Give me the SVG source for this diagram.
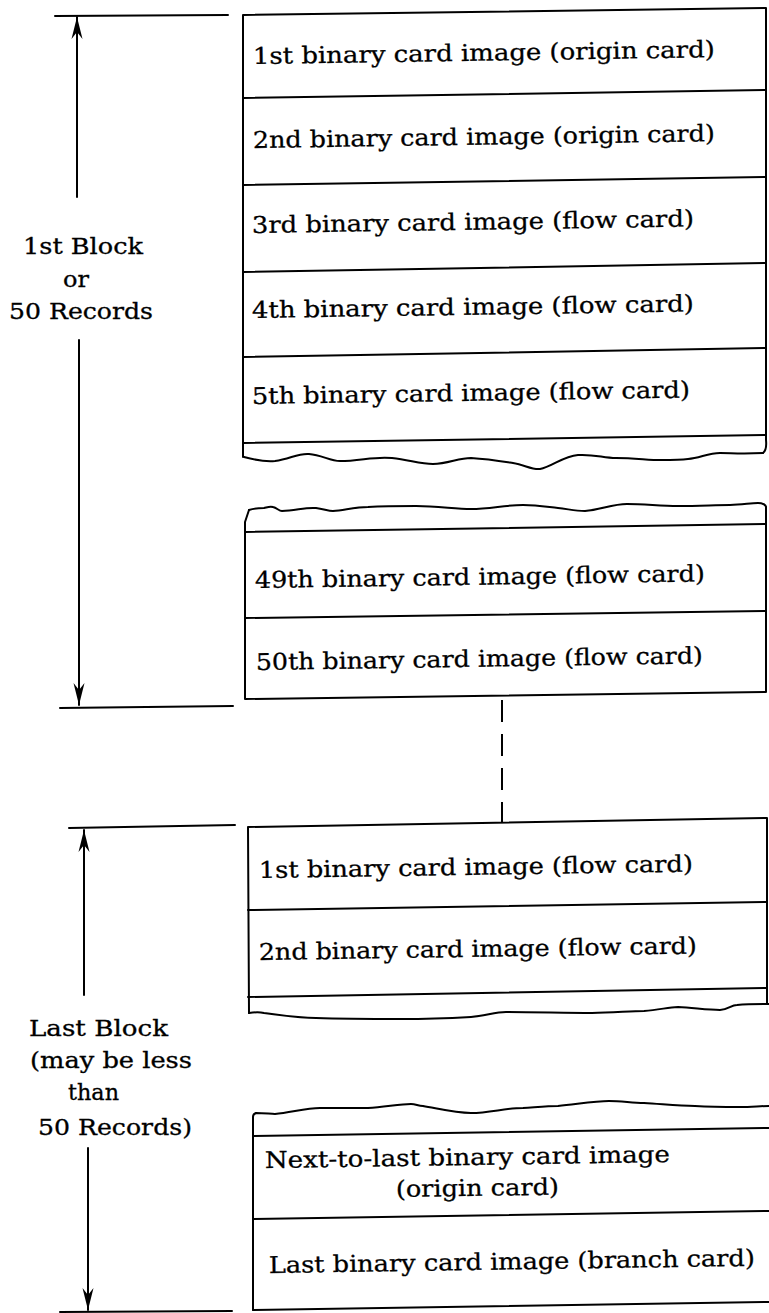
<svg xmlns="http://www.w3.org/2000/svg" width="769" height="1313" viewBox="0 0 769 1313">
<style>
.ln{fill:none;stroke:#000;stroke-width:2;stroke-linejoin:round;stroke-linecap:round}
.t{font-family:"DejaVu Serif","Liberation Serif",serif;font-size:23px;fill:#000;stroke:#000;stroke-width:0.3}
.lb{font-family:"DejaVu Serif","Liberation Serif",serif;font-size:22px;fill:#000;stroke:#000;stroke-width:0.3}
</style>
<defs>
<marker id="ah" viewBox="-24 -7 26 14" refX="0" refY="0" markerWidth="26" markerHeight="14" markerUnits="userSpaceOnUse" orient="auto">
<path d="M0,0 L-22,-5.5 L-15,0 L-22,5.5 Z" fill="#000"/>
</marker>
</defs>
<rect width="769" height="1313" fill="#fff"/>

<g id="block1">
<path class="ln" d="M243,457 L243,15 L766,8 L766,440 Q767,450 763,453"/>
<path class="ln" d="M244,457 C255,460 265,462 275,461 C290,459 298,453 309,454 C322,455 330,461 340,461 C360,461 375,456 392,458 C410,460 420,464 433,464 C448,464 458,458 471,458 C488,459 500,461 513,463 C525,465 532,470 540,469 C552,467 563,456 578,455 C595,454 603,458 616,458 C635,458 648,460 661,460 C675,460 680,460 688,459 C700,458 708,453 720,453 C732,453 740,454 763,453"/>
<path class="ln" d="M243,98 L766,90 M243,185 L766,177 M243,272 L766,263 M243,357 L766,348 M243,443 L766,435"/>
<text class="t" x="253" y="64" textLength="462" lengthAdjust="spacingAndGlyphs" transform="rotate(-0.85 253 64)">1st binary card image (origin card)</text>
<text class="t" x="253" y="148" textLength="462" lengthAdjust="spacingAndGlyphs" transform="rotate(-0.85 253 148)">2nd binary card image (origin card)</text>
<text class="t" x="252" y="233" textLength="442" lengthAdjust="spacingAndGlyphs" transform="rotate(-0.85 252 233)">3rd binary card image (flow card)</text>
<text class="t" x="252" y="318" textLength="442" lengthAdjust="spacingAndGlyphs" transform="rotate(-0.85 252 318)">4th binary card image (flow card)</text>
<text class="t" x="252" y="404" textLength="438" lengthAdjust="spacingAndGlyphs" transform="rotate(-0.85 252 404)">5th binary card image (flow card)</text>
</g>

<g id="block1-end">
<path class="ln" d="M249,510 C255,508 260,508 264,508 C268,507 270,506 273,507 C277,508 279,511 282,511 C295,511 305,507 316,508 C324,509 328,511 333,511 C345,510 355,507 368,507 C385,506 400,506 416,506 C438,506 455,509 471,509 C490,509 505,505 523,505 C538,505 548,507 558,508 C568,509 575,511 585,511 C600,510 612,504 627,504 C645,504 660,506 678,506 C700,506 715,505 730,505 C742,505 750,503 758,503 C763,503 766,505 766,507"/>
<path class="ln" d="M249,510 L245,522 L245,699 L766,692 L766,507"/>
<path class="ln" d="M245,532 L766,524 M245,618 L766,611"/>
<text class="t" x="255" y="588" textLength="450" lengthAdjust="spacingAndGlyphs" transform="rotate(-0.85 255 588)">49th binary card image (flow card)</text>
<text class="t" x="256" y="670" textLength="447" lengthAdjust="spacingAndGlyphs" transform="rotate(-0.85 256 670)">50th binary card image (flow card)</text>
</g>

<g id="block-last">
<path class="ln" d="M249,1013 L248,827 L767,818 L767,1004"/>
<path class="ln" d="M248,910 L767,902 M248,997 L767,988"/>
<path class="ln" d="M249,1013 C255,1012 260,1012 264,1013 C280,1015 298,1018 316,1018 C345,1019 375,1019 402,1019 C430,1019 452,1018 471,1017 C485,1016 495,1012 506,1012 C535,1012 565,1013 592,1013 C612,1013 630,1011 644,1011 C660,1010 668,1007 678,1007 C695,1008 708,1010 720,1010 C728,1010 731,1005 737,1005 C748,1004 758,1004 769,1004"/>
<text class="t" x="259" y="878" textLength="434" lengthAdjust="spacingAndGlyphs" transform="rotate(-0.85 259 878)">1st binary card image (flow card)</text>
<text class="t" x="259" y="960" textLength="438" lengthAdjust="spacingAndGlyphs" transform="rotate(-0.85 259 960)">2nd binary card image (flow card)</text>
</g>

<g id="block-last-end">
<path class="ln" d="M253,1310 L253,1117 Q253,1114 256,1113 C265,1113 270,1114 275,1114 C290,1113 305,1108 320,1108 C340,1108 355,1108 368,1108 C385,1107 400,1104 411,1104 C416,1104 418,1106 423,1106 C440,1109 455,1113 471,1113 C490,1113 505,1108 523,1108 C538,1107 548,1106 558,1106 C578,1104 595,1101 609,1101 C622,1101 632,1103 644,1103 C662,1104 678,1106 695,1106 C712,1107 726,1107 740,1107 C752,1107 760,1106 769,1106"/>
<path class="ln" d="M253,1310 L769,1302"/>
<path class="ln" d="M253,1136 L769,1128 M253,1219 L769,1211"/>
<text class="t" x="265" y="1168" textLength="405" lengthAdjust="spacingAndGlyphs" transform="rotate(-0.85 265 1168)">Next-to-last binary card image</text>
<text class="t" x="396" y="1197" textLength="163" lengthAdjust="spacingAndGlyphs" transform="rotate(-0.85 396 1197)">(origin card)</text>
<text class="t" x="269" y="1273" textLength="486" lengthAdjust="spacingAndGlyphs" transform="rotate(-0.85 269 1273)">Last binary card image (branch card)</text>
</g>

<g id="label-first">
<text class="lb" x="23" y="254" textLength="120" lengthAdjust="spacingAndGlyphs">1st Block</text>
<text class="lb" x="63" y="287" textLength="26" lengthAdjust="spacingAndGlyphs">or</text>
<text class="lb" x="9" y="319" textLength="144" lengthAdjust="spacingAndGlyphs">50 Records</text>
</g>

<g id="label-last">
<text class="lb" x="29" y="1036" textLength="139" lengthAdjust="spacingAndGlyphs">Last Block</text>
<text class="lb" x="30" y="1068" textLength="162" lengthAdjust="spacingAndGlyphs">(may be less</text>
<text class="lb" x="68" y="1100" textLength="51" lengthAdjust="spacingAndGlyphs">than</text>
<text class="lb" x="38" y="1135" textLength="154" lengthAdjust="spacingAndGlyphs">50 Records)</text>
</g>

<g id="connectors">
<path class="ln" d="M55,16 L228,15"/>
<path class="ln" d="M77,197 L77,17" marker-end="url(#ah)"/>
<path class="ln" d="M79,340 L79,705" marker-end="url(#ah)"/>
<path class="ln" d="M60,708 L233,706"/>
<path class="ln" d="M502,700 L502,822" stroke-dasharray="22 12" style="stroke-linecap:butt"/>
<path class="ln" d="M69,828 L235,825"/>
<path class="ln" d="M84,995 L84,830" marker-end="url(#ah)"/>
<path class="ln" d="M88,1148 L88,1310" marker-end="url(#ah)"/>
<path class="ln" d="M60,1312 L232,1311"/>
</g>
</svg>
